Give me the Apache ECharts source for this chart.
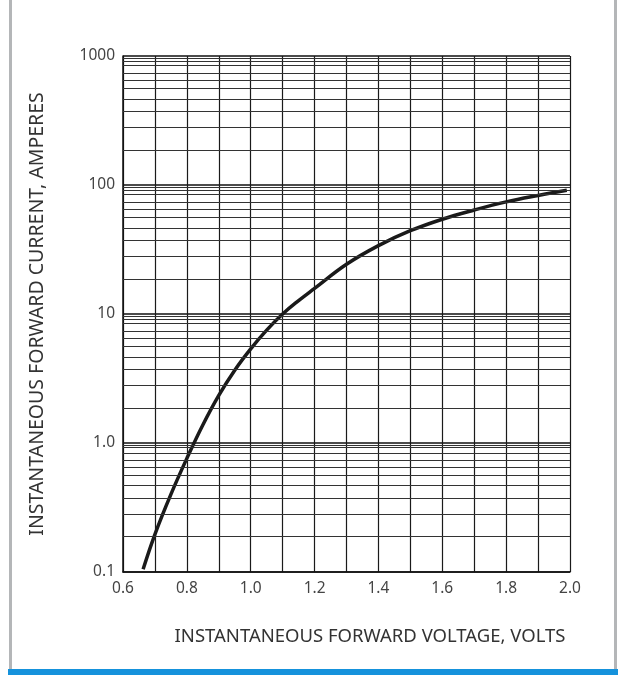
<!DOCTYPE html>
<html>
<head>
<meta charset="utf-8">
<script src="https://cdn.jsdelivr.net/npm/echarts@6/dist/echarts.min.js"></script>
<style>
  html, body { margin: 0; padding: 0; background: #fff; }
  #chart { width: 620px; height: 675px; }
</style>
</head>
<body>
<div id="chart"></div>
<script>
// forward voltage (V) vs instantaneous forward current (A)
const voltage = [0.663, 0.70, 0.75, 0.80, 0.85, 0.90, 0.95, 1.00, 1.05, 1.10, 1.15, 1.20, 1.30, 1.40, 1.50, 1.60, 1.70, 1.80, 1.90, 1.99]
const current = [0.105, 0.196, 0.40, 0.76, 1.38, 2.34, 3.67, 5.37, 7.5, 10.0, 12.7, 15.8, 24.3, 33.9, 44.2, 54.3, 64, 74, 83, 91]

const xLabels = ['0.6', '0.8', '1.0', '1.2', '1.4', '1.6', '1.8', '2.0']
const yLabels = { 0.1: '0.1', 1: '1.0', 10: '10', 100: '100', 1000: '1000' }

// decades and the in-between grid lines of the log paper
const decades = [0.1, 1, 10, 100]
const minorSteps = [1.86, 2.79, 3.73, 4.65, 5.62, 6.5, 7.41, 8.41, 9.18, 9.59]

const chart = echarts.init(document.getElementById('chart'))

const minorLines = []
decades.forEach(d => {
  minorSteps.forEach(m => minorLines.push({ yAxis: d * m }))
})

const font = 'Noto Sans'

chart.setOption({
  animation: false,
  grid: { left: 123, right: 50, top: 56, bottom: 103 },
  xAxis: {
    type: 'value',
    min: 0.6,
    max: 2.0,
    interval: 0.1,
    name: 'INSTANTANEOUS FORWARD VOLTAGE, VOLTS',
    nameLocation: 'middle',
    nameGap: 55,
    nameTextStyle: { fontFamily: font, fontSize: 18.5, color: '#333', padding: [0, 0, 0, 47] },
    axisLine: { lineStyle: { color: '#111', width: 1.5 } },
    axisTick: { show: false },
    axisLabel: {
      margin: 9,
      fontFamily: font,
      fontSize: 15.5,
      color: '#444',
      formatter: v => {
        const s = v.toFixed(1)
        return xLabels.includes(s) ? s : ''
      }
    },
    splitLine: { show: true, lineStyle: { color: '#1a1a1a', width: 1.2 } }
  },
  yAxis: {
    type: 'log',
    logBase: 10,
    min: 0.1,
    max: 1000,
    name: 'INSTANTANEOUS FORWARD CURRENT, AMPERES',
    nameLocation: 'middle',
    nameGap: 76,
    nameTextStyle: { fontFamily: font, fontSize: 19.5, color: '#333' },
    axisLine: { show: true, lineStyle: { color: '#111', width: 1.5 } },
    axisTick: { show: false },
    axisLabel: {
      margin: 8,
      fontFamily: font,
      fontSize: 15.5,
      color: '#444',
      formatter: v => {
        const key = Number(v.toPrecision(3))
        return yLabels[key] !== undefined ? yLabels[key] : ''
      }
    },
    splitLine: { show: true, lineStyle: { color: '#111', width: 1.5 } }
  },
  series: [
    {
      type: 'line',
      data: voltage.map((v, i) => [v, current[i]]),
      smooth: 0.4,
      symbol: 'none',
      lineStyle: { color: '#1a1a1a', width: 3.5 },
      markLine: {
        silent: true,
        symbol: 'none',
        label: { show: false },
        lineStyle: { color: '#333', width: 1, type: 'solid' },
        data: minorLines
      },
      z: 3
    }
  ],
  graphic: [
    { type: 'rect', shape: { x: 9, y: 0, width: 3, height: 670 }, style: { fill: '#b4b6b8' } },
    { type: 'rect', shape: { x: 614, y: 0, width: 3, height: 670 }, style: { fill: '#b4b6b8' } },
    { type: 'rect', shape: { x: 8, y: 669, width: 610, height: 6 }, style: { fill: '#1592dc' } }
  ]
})
</script>
</body>
</html>
